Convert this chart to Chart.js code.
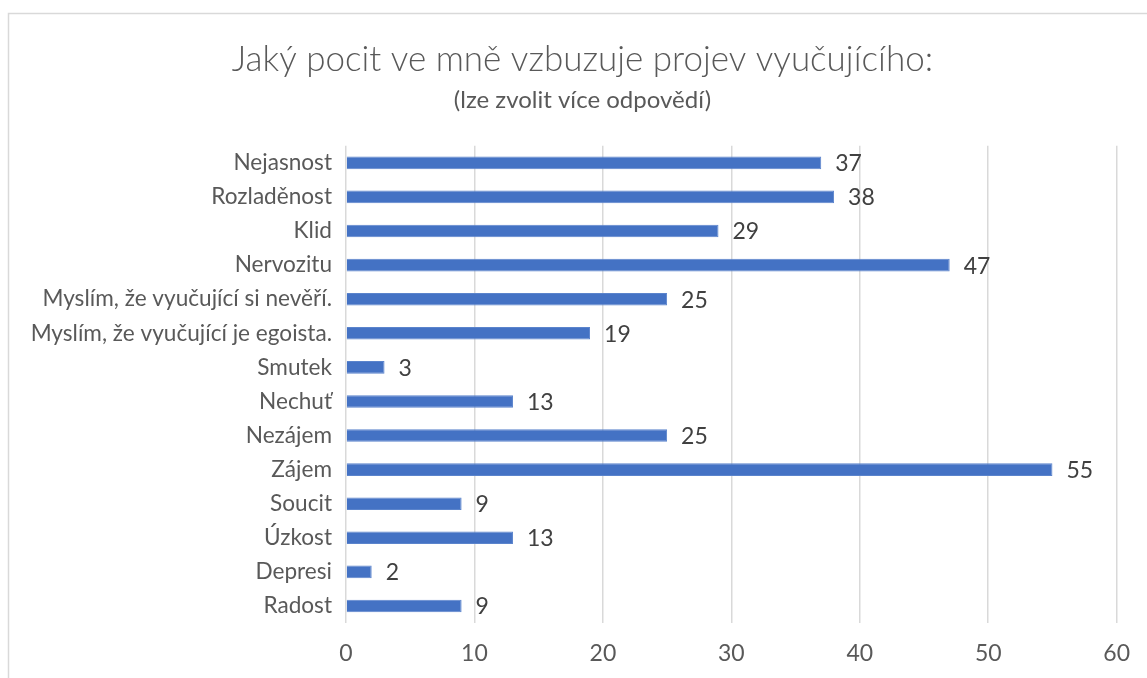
<!DOCTYPE html>
<html>
<head>
<meta charset="utf-8">
<script src="https://cdn.jsdelivr.net/npm/chart.js@4/dist/chart.umd.min.js"></script>
<style>
  html, body { margin: 0; padding: 0; background: #fff; }
  #wrap { width: 1147px; height: 678px; position: relative; }
</style>
</head>
<body>
<div id="wrap"><canvas id="pocitChart" width="1147" height="678"></canvas></div>
<script>
// Odpovědi a počty
const kategorie = [
  'Nejasnost',
  'Rozladěnost',
  'Klid',
  'Nervozitu',
  'Myslím, že vyučující si nevěří.',
  'Myslím, že vyučující je egoista.',
  'Smutek',
  'Nechuť',
  'Nezájem',
  'Zájem',
  'Soucit',
  'Úzkost',
  'Depresi',
  'Radost'
];
const pocty = [37, 38, 29, 47, 25, 19, 3, 13, 25, 55, 9, 13, 2, 9];
const osaX = [0, 10, 20, 30, 40, 50, 60];

const pismo = 'Lato, "Open Sans", sans-serif';

// Rámeček kolem grafu (jen horní a levá hrana jsou vidět)
const ramecek = {
  id: 'ramecek',
  beforeDraw: function(chart) {
    const ctx = chart.ctx;
    ctx.save();
    ctx.fillStyle = '#ffffff';
    ctx.fillRect(0, 0, chart.width, chart.height);
    ctx.strokeStyle = '#d9d9d9';
    ctx.lineWidth = 1.5;
    ctx.beginPath();
    ctx.moveTo(8.5, chart.height);
    ctx.lineTo(8.5, 13.5);
    ctx.lineTo(chart.width, 13.5);
    ctx.stroke();
    ctx.restore();
  }
};

// Nadpis a podnadpis trochu doprava (rámeček pokračuje za pravý okraj)
const posunNadpisu = {
  id: 'posunNadpisu',
  afterLayout: function(chart) {
    chart.boxes.forEach(function(b) {
      if (b.position === 'top' && !b.axis) {
        b.left += 46;
      }
    });
  }
};

// Popisky hodnot za koncem pruhů
const hodnoty = {
  id: 'hodnoty',
  afterDatasetsDraw: function(chart) {
    const ctx = chart.ctx;
    const meta = chart.getDatasetMeta(0);
    ctx.save();
    ctx.font = '23px ' + pismo;
    ctx.fillStyle = '#404040';
    ctx.textAlign = 'left';
    ctx.textBaseline = 'middle';
    meta.data.forEach(function(bar, i) {
      ctx.fillText(String(chart.data.datasets[0].data[i]), bar.x + 14, bar.y + 1);
    });
    ctx.restore();
  }
};

var ctx = document.getElementById('pocitChart').getContext('2d');
var pocitChart = new Chart(ctx, {
  type: 'bar',
  data: {
    labels: kategorie,
    datasets: [{
      data: pocty,
      backgroundColor: '#4472c4',
      borderColor: '#5b84cc',
      borderWidth: 1,
      barPercentage: 0.74,
      categoryPercentage: 0.5
    }]
  },
  options: {
    indexAxis: 'y',
    responsive: false,
    animation: false,
    layout: {
      padding: { left: 0, right: 28, top: 0, bottom: 0 }
    },
    plugins: {
      legend: { display: false },
      tooltip: { enabled: false },
      title: {
        display: true,
        text: 'Jaký pocit ve mně vzbuzuje projev vyučujícího:',
        color: '#595959',
        font: { family: pismo, size: 35, weight: '300' },
        padding: { top: 39, bottom: 2 }
      },
      subtitle: {
        display: true,
        text: '(lze zvolit více odpovědí)',
        color: '#595959',
        font: { family: pismo, size: 24 },
        padding: { top: 3, bottom: 31 }
      }
    },
    scales: {
      x: {
        min: 0,
        max: 60,
        afterBuildTicks: function(scale) {
          scale.ticks = osaX.map(function(v) { return { value: v }; });
        },
        afterFit: function(scale) { scale.height = 55; },
        grid: {
          color: '#d9d9d9',
          lineWidth: 1.5,
          drawTicks: false
        },
        border: { display: false },
        ticks: {
          color: '#595959',
          font: { family: pismo, size: 23 },
          padding: 17
        }
      },
      y: {
        afterFit: function(scale) { scale.width = 346; },
        grid: { display: false, drawTicks: false },
        border: { display: false },
        ticks: {
          color: '#595959',
          font: { family: pismo, size: 22.6 },
          padding: 14
        }
      }
    }
  },
  plugins: [ramecek, posunNadpisu, hodnoty]
});
</script>
</body>
</html>
